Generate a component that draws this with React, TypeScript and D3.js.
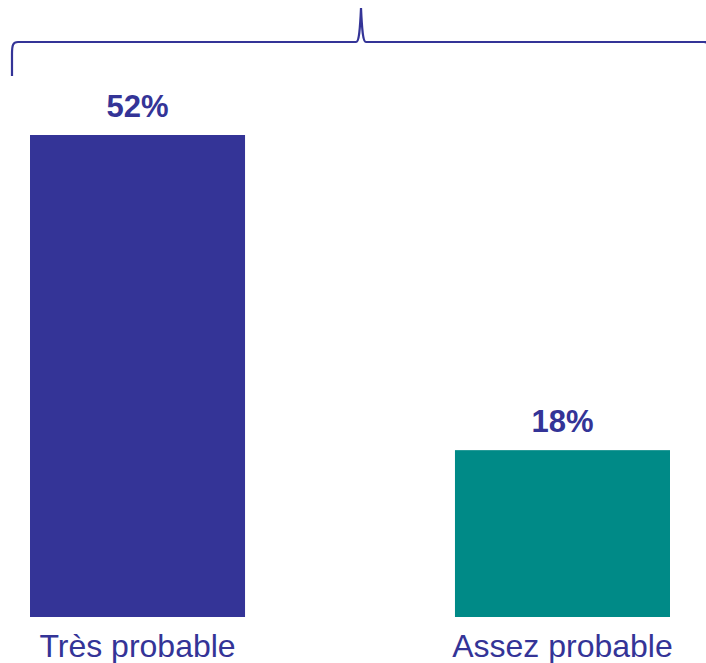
import React from "react";
import * as d3 from "d3";

const categories = ["Très probable", "Assez probable"];
const values = [52, 18];
const valueLabels = ["52%", "18%"];
const barColors = ["#343497", "#008a87"];

const W = 706;
const H = 663;
const NAVY = "#343497";
const FONT = "'Liberation Sans', Arial, Helvetica, sans-serif";

export default function App() {
  const x = d3
    .scaleBand<string>()
    .domain(categories)
    .range([30, 670])
    .paddingInner(0.494)
    .paddingOuter(0);

  const y = d3.scaleLinear().domain([0, 52]).range([617, 135]);

  // Curly brace grouping both bars
  const braceY = 42;
  const tipX = 361;
  const brace = d3.path();
  brace.moveTo(12, 76);
  brace.lineTo(12, 54);
  brace.bezierCurveTo(12, 45, 13, braceY, 18, braceY);
  brace.lineTo(tipX - 5, braceY);
  brace.bezierCurveTo(tipX - 2, braceY, tipX - 1, 30, tipX, 8);
  brace.bezierCurveTo(tipX + 1, 30, tipX + 2, braceY, tipX + 5, braceY);
  brace.lineTo(704, braceY);
  brace.bezierCurveTo(709, braceY, 710, 45, 710, 54);

  return (
    <svg
      width={W}
      height={H}
      style={{ position: "absolute", left: 0, top: 0, display: "block", background: "#fff" }}
    >
      <path d={brace.toString()} fill="none" stroke={NAVY} strokeWidth={2.2} />
      {categories.map((c, i) => {
        const bx = x(c) as number;
        const bw = x.bandwidth();
        const cx = bx + bw / 2;
        return (
          <g key={c}>
            <rect x={bx} y={y(values[i])} width={bw} height={y(0) - y(values[i])} fill={barColors[i]} />
            <text
              x={cx}
              y={y(values[i]) - 18}
              textAnchor="middle"
              fontFamily={FONT}
              fontWeight="bold"
              fontSize={31}
              fill={NAVY}
            >
              {valueLabels[i]}
            </text>
            <text
              x={cx}
              y={657}
              textAnchor="middle"
              fontFamily={FONT}
              fontSize={32}
              fill={NAVY}
            >
              {c}
            </text>
          </g>
        );
      })}
    </svg>
  );
}
